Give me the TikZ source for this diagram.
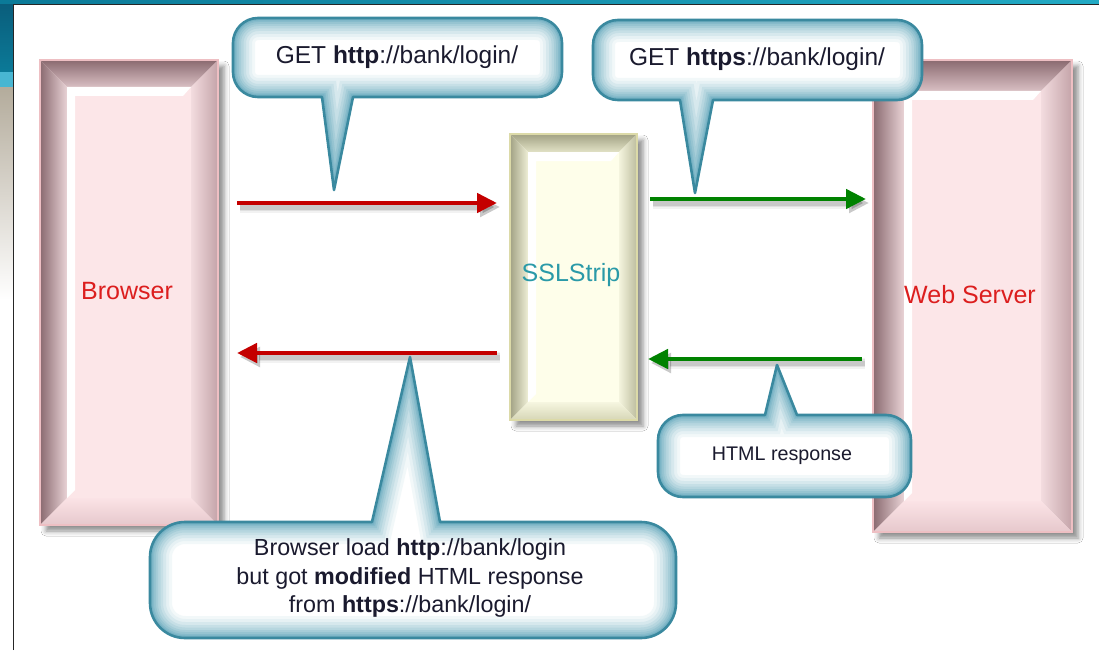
\documentclass[tikz,border=0pt]{standalone}
\usepackage{fontspec}
\setmainfont{Liberation Sans}
\usetikzlibrary{arrows.meta,shadows.blur}

\definecolor{pkdark}{HTML}{8A6A70}
\definecolor{pkmid}{HTML}{D9BFC3}
\definecolor{pklight}{HTML}{E9D3D6}
\definecolor{pkrin}{HTML}{F3DCDF}
\definecolor{pkrout}{HTML}{C4A4A9}
\definecolor{pkbin}{HTML}{FBE3E6}
\definecolor{pkbout}{HTML}{E6C8CC}
\definecolor{pkface}{HTML}{FCE6E8}
\definecolor{pkedge}{HTML}{EEBFC3}

\definecolor{yldark}{HTML}{A2A284}
\definecolor{ylmid}{HTML}{E2E2C6}
\definecolor{yllight}{HTML}{EEEED6}
\definecolor{ylrin}{HTML}{F4F4DE}
\definecolor{ylrout}{HTML}{BDBD9E}
\definecolor{ylbin}{HTML}{F6F6E0}
\definecolor{ylbout}{HTML}{D6D6B6}
\definecolor{ylface}{HTML}{FEFEEA}
\definecolor{yledge}{HTML}{DCDAA8}

\definecolor{cglow}{RGB}{96,166,186}
\definecolor{cborder}{HTML}{3A899F}
\definecolor{txt}{HTML}{1A1A2E}
\definecolor{lblred}{HTML}{DC1E1E}
\definecolor{lblteal}{HTML}{2A9AA8}
\definecolor{arred}{HTML}{C40000}
\definecolor{argreen}{HTML}{008200}
\definecolor{tealdark}{HTML}{0A5C7A}
\definecolor{tealmid}{HTML}{0B7A98}
\definecolor{tealtop}{HTML}{22AAC4}
\definecolor{lightblue}{HTML}{48B6D2}
\definecolor{beige}{HTML}{B4AC9C}

\newcommand\bevelbox[6]{%
  \path[blur shadow={shadow xshift=6pt,shadow yshift=-6pt,shadow opacity=45,shadow blur radius=5pt}] (#1,#2) rectangle (#3,#4);
  \fill[#6face] (#1,#2) rectangle (#3,#4);
  \shade[top color=#6dark,bottom color=#6mid] (#1,#2) -- (#3,#2) -- ({#3-#5},{#2+#5}) -- ({#1+#5},{#2+#5}) -- cycle;
  \shade[left color=#6dark,right color=#6light] (#1,#2) -- ({#1+#5},{#2+#5}) -- ({#1+#5},{#4-#5}) -- (#1,#4) -- cycle;
  \shade[left color=#6rin,right color=#6rout] (#3,#2) -- (#3,#4) -- ({#3-#5},{#4-#5}) -- ({#3-#5},{#2+#5}) -- cycle;
  \shade[top color=#6bin,bottom color=#6bout] (#1,#4) -- ({#1+#5},{#4-#5}) -- ({#3-#5},{#4-#5}) -- (#3,#4) -- cycle;
  \fill[#6face] ({#1+#5},{#2+#5}) rectangle ({#3-#5},{#4-#5});
  \fill[white] ({#1+#5},{#2+#5}) -- ({#3-#5},{#2+#5}) -- ({#3-#5-8},{#2+#5+9}) -- ({#1+#5+8},{#2+#5+9}) -- ({#1+#5+8},{#4-#5-8}) -- ({#1+#5},{#4-#5}) -- cycle;
  \draw[#6edge,line width=1.2] (#1,#2) rectangle (#3,#4);
}

\newcommand\bubble[1]{%
  \begin{scope}
    \clip #1;
    \fill[white] #1;
    \foreach \w/\c in {44/8,38/16,32/26,26/36,21/46,16/56,12/66,8/76,5/86}
      \draw[line width=\w, draw=cglow!\c!white] #1;
  \end{scope}
  \draw[cborder,line width=2.6,line join=round] #1;
}

\def\pA{(233,43) arc[start angle=180,end angle=270,radius=25] -- (537,18) arc[start angle=270,end angle=360,radius=25] -- (562,72) arc[start angle=0,end angle=90,radius=25] -- (353,97) -- (334,190) -- (322,97) -- (258,97) arc[start angle=90,end angle=180,radius=25] -- cycle}
\def\pB{(593,45) arc[start angle=180,end angle=270,radius=25] -- (897,20) arc[start angle=270,end angle=360,radius=25] -- (922,75) arc[start angle=0,end angle=90,radius=25] -- (713,100) -- (695,193) -- (680,100) -- (618,100) arc[start angle=90,end angle=180,radius=25] -- cycle}
\def\pC{(658,440) arc[start angle=180,end angle=270,radius=25] -- (765,415) -- (777,365) -- (797,415) -- (886,415) arc[start angle=270,end angle=360,radius=25] -- (911,472) arc[start angle=0,end angle=90,radius=25] -- (683,497) arc[start angle=90,end angle=180,radius=25] -- cycle}
\def\pD{(150,557) arc[start angle=180,end angle=270,radius=35] -- (372,522) -- (410,357) -- (440,522) -- (641,522) arc[start angle=270,end angle=360,radius=35] -- (676,603) arc[start angle=0,end angle=90,radius=35] -- (185,638) arc[start angle=90,end angle=180,radius=35] -- cycle}

\tikzset{
  arr/.style={line width=4.5,-{Triangle[length=20pt,width=19pt]}},
  arrshadow/.style={black,-{Triangle[length=20pt,width=19pt]}},
  boxlabel/.style={font=\fontsize{25}{30}\selectfont,inner sep=0pt},
  calltext/.style={text=txt,inner sep=0pt,align=center}
}

\begin{document}
\begin{tikzpicture}[x=1pt,y=-1pt]
\useasboundingbox (0,0) rectangle (1099,650);
\fill[white] (0,0) rectangle (1099,650);
% page decoration
\shade[top color=tealdark,bottom color=tealmid] (0,0) rectangle (13,72);
\fill[lightblue] (0,72) rectangle (13,88);
\shade[top color=beige,bottom color=white] (0,88) rectangle (13,300);
\shade[left color=tealmid,right color=tealtop] (0,0) rectangle (1099,4);
\draw[black!85,line width=1.6] (13.5,650) -- (13.5,4.6) -- (1099,4.6);

% boxes
\bevelbox{40}{60}{218}{525}{27}{pk}
\bevelbox{873}{60}{1072}{532}{31}{pk}
\bevelbox{510}{134}{637}{420}{18}{yl}

\node[boxlabel,text=lblred] (browser) at (127,291) {Browser};
\node[boxlabel,text=lblred] (server) at (970,295) {Web Server};
\node[boxlabel,text=lblteal] (ssl) at (571,275) {SSLStrip};

% arrows
\coordinate (r1s) at (237,203); \coordinate (r1e) at (497,203);
\coordinate (g1s) at (650,199); \coordinate (g1e) at (866,199);
\coordinate (r2s) at (497,353); \coordinate (r2e) at (237,353);
\coordinate (g2s) at (862,359); \coordinate (g2e) at (648,359);
\foreach \s/\e in {r1s/r1e,g1s/g1e,r2s/r2e,g2s/g2e}{
  \foreach \lw/\op in {11/.05,8/.07,5/.10}
    \draw[arrshadow,line width=\lw,opacity=\op,transform canvas={xshift=3pt,yshift=-4pt}] (\s) -- (\e);
}
\draw[arr,arred] (r1s) -- (r1e);
\draw[arr,argreen] (g1s) -- (g1e);
\draw[arr,arred] (r2s) -- (r2e);
\draw[arr,argreen] (g2s) -- (g2e);

% callouts
\bubble{\pA}
\bubble{\pB}
\bubble{\pC}
\bubble{\pD}

\node[calltext,font=\fontsize{24.5}{29}\selectfont] (c1) at (397,57) {GET \textbf{http}://bank/login/};
\node[calltext,font=\fontsize{24.5}{29}\selectfont] (c2) at (757,59) {GET \textbf{https}://bank/login/};
\node[calltext,font=\fontsize{19.7}{24}\selectfont] (c3) at (782,456) {HTML response};
\node[calltext,font=\fontsize{23.3}{28.5}\selectfont] (c4) at (410,578) {Browser load \textbf{http}://bank/login\\but got \textbf{modified} HTML response\\from \textbf{https}://bank/login/};
\end{tikzpicture}
\end{document}
